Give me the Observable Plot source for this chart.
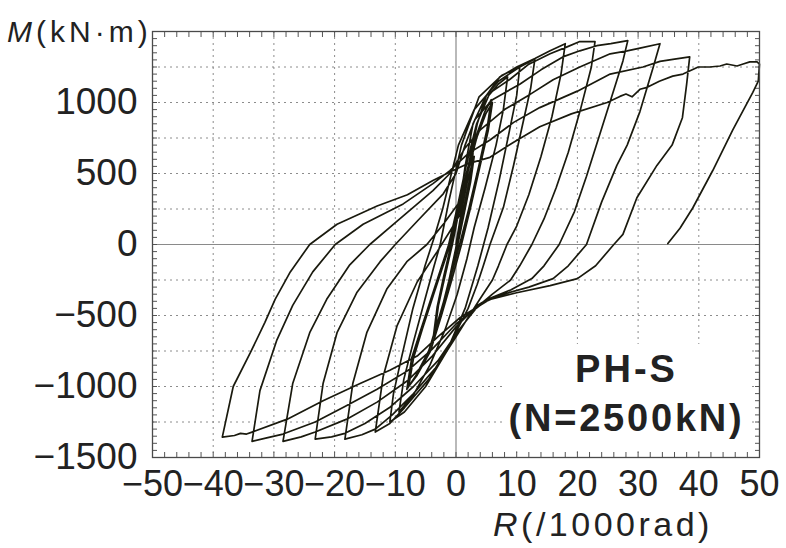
<!DOCTYPE html>
<html><head><meta charset="utf-8">
<script src="https://cdn.jsdelivr.net/npm/d3@7"></script>
<script src="https://cdn.jsdelivr.net/npm/@observablehq/plot@0.6"></script>
<style>
body{margin:0;background:#fff;}
#wrap{position:relative;width:786px;height:548px;font-family:"Liberation Sans",Arial,sans-serif;color:#222;overflow:hidden;}
.lbl{position:absolute;white-space:nowrap;line-height:1;}
</style></head><body><div id="wrap"></div>
<script>
// tick values
const xTicks = [-50,-40,-30,-20,-10,0,10,20,30,40,50];
const yTicks = [-1500,-1000,-500,0,500,1000];
const xGrid = [-40,-30,-20,-10,10,20,30,40];
const yGrid = [-1250,-1000,-750,-500,-250,250,500,750,1000,1250];

// hysteresis record, R (1/1000 rad), M (kN·m), in loading order
const band1 = [[0,0],[1,260],[2,470],[3,620],[2.4,440],[1.4,230],[0.3,0],[-1,-260],[-2.3,-470],[-3.5,-620],[-2.9,-430],[-1.8,-220],[-0.6,0],[0.6,260],[1.7,480],[2.8,640],[2.2,450],[1.1,220],[0.1,0],[-1.2,-260],[-2.5,-480],[-3.7,-640],[-3.1,-440],[-2,-220],[-0.8,0]];
const band2 = [[-0.8,0],[0.6,250],[1.9,500],[3.4,750],[4.9,920],[6,1000],[5.3,800],[4,560],[2.4,260],[0.9,0],[-0.7,-250],[-2.4,-500],[-4.2,-750],[-6.4,-920],[-7.8,-1000],[-7,-800],[-5.5,-590],[-3.6,-340],[-1.6,-80],[-1,0],[0.4,250],[1.7,500],[3.2,750],[4.7,930],[5.8,1020],[5.1,810],[3.8,560],[2.1,250],[0.6,0],[-1,-250],[-2.7,-500],[-4.5,-750],[-6.7,-930],[-8.1,-1020],[-7.3,-800],[-5.8,-600],[-3.8,-340],[-1.8,-80],[-1.2,0]];
const band3 = [[-1.2,0],[0.2,260],[1.7,560],[3.4,850],[5.4,1050],[7,1130],[8.5,1180],[7.8,950],[6.6,700],[4.8,400],[3,120],[1.8,-100],[0.2,-350],[-1.8,-600],[-4.3,-850],[-6.9,-1050],[-9.4,-1180],[-8.6,-950],[-7.1,-700],[-5.2,-400],[-3.6,-150],[-2.6,0]];
const cycle10 = [[-2.6,0],[-1.2,300],[0.9,700],[3.8,1040],[7.5,1190],[10.5,1250],[10,1050],[8.8,800],[7.1,450],[5.3,120],[3.6,-150],[1.5,-450],[-1.5,-750],[-5,-1000],[-8.5,-1180],[-10.9,-1250],[-10.3,-1050],[-9,-800],[-7.1,-450],[-5.1,-150],[-3.6,50],[-2.2,250]];
const cycle15 = [[-2.2,250],[0.4,700],[3,950],[7,1150],[10.5,1250],[13,1307],[12.3,1100],[11,850],[9.5,560],[7.8,260],[5.6,0],[4.5,-150],[3.5,-280],[2,-450],[-1,-700],[-4.5,-950],[-8.5,-1150],[-10.9,-1260],[-13.3,-1321],[-12,-929],[-9.7,-571],[-6.4,-264],[-3.1,-50],[-1,93],[0.7,214]];
const cycle20 = [[0.7,214],[2,550],[3.5,850],[5,1050],[7.2,1179],[10,1250],[13,1310],[15.5,1364],[18,1414],[17.3,1200],[15.8,900],[14,620],[12,350],[10,130],[8.4,0],[7,-150],[6,-250],[4,-380],[2.5,-480],[0,-650],[-3,-850],[-7,-1050],[-10.5,-1200],[-13.3,-1300],[-15.5,-1340],[-18.3,-1371],[-17,-979],[-14.7,-621],[-11.4,-314],[-8.1,-121],[-4.8,0],[-2.1,143],[0.7,307]];
const cycle25 = [[0.7,307],[1.5,550],[2.8,850],[5,1050],[8.9,1164],[12,1270],[15.5,1343],[18.2,1390],[20.4,1429],[22.9,1429],[22.3,1250],[20.5,950],[18.5,650],[16.5,400],[14.5,180],[12.5,0],[10.5,-150],[9,-250],[6,-350],[3.5,-440],[0.5,-600],[-3,-820],[-7,-1000],[-11,-1150],[-15,-1260],[-18.3,-1330],[-20.5,-1355],[-23.2,-1371],[-21.9,-979],[-19.6,-621],[-16.3,-336],[-12.5,-121],[-10,0],[-6.4,164],[-2.1,357]];
const cycle30 = [[-2.1,357],[0,500],[1.5,700],[3.1,879],[6,1020],[10.5,1129],[14,1230],[17.6,1321],[20.4,1364],[23.2,1400],[25.5,1415],[28.3,1436],[27.5,1293],[25.4,1007],[23.5,750],[21.5,480],[19.5,230],[17,0],[14.5,-150],[12.5,-240],[9,-320],[5,-390],[3.5,-430],[0,-580],[-4,-790],[-8,-960],[-13,-1110],[-18,-1230],[-23.2,-1320],[-25.5,-1355],[-28.5,-1386],[-26.9,-979],[-24.1,-621],[-21.3,-386],[-17.5,-143],[-14.2,0],[-9.7,164],[-3.8,379]];
const cycle35 = [[-3.8,379],[-1,500],[1.5,680],[4,807],[8,950],[12.2,1057],[16,1160],[20.4,1250],[25.4,1343],[28.2,1364],[30.5,1385],[33.6,1414],[32.5,1250],[30.3,936],[28.2,700],[26.5,557],[24,300],[21.5,0],[18.5,-150],[16,-240],[12,-300],[7,-360],[4.5,-410],[0,-560],[-4,-740],[-8,-890],[-13,-1020],[-18.3,-1140],[-23.2,-1250],[-28.5,-1335],[-31,-1360],[-33.6,-1386],[-32.3,-1029],[-29.5,-671],[-26.9,-429],[-23.6,-193],[-19.9,0],[-15.3,143],[-8.7,286],[-3.8,429]];
const cycle40 = [[-3.8,429],[-1,520],[2,640],[5.6,736],[9.5,860],[13.8,964],[20,1080],[25.4,1200],[30.8,1250],[33.6,1290],[36,1305],[38.5,1321],[38,1129],[37.3,893],[35.6,700],[33.1,557],[29.8,329],[27.5,71],[26,0],[23,-150],[20,-240],[15.5,-290],[10,-340],[5.6,-386],[0.7,-514],[-3,-650],[-6.4,-786],[-10.9,-886],[-15.8,-979],[-21.9,-1100],[-27.8,-1230],[-33.6,-1321],[-34.5,-1335],[-35.5,-1330],[-36.5,-1345],[-38.5,-1357],[-36.7,-1000],[-33.9,-764],[-31.5,-550],[-29.8,-386],[-27.3,-193],[-24.1,0],[-19.6,143],[-13,271],[-8,350],[-3.8,450]];
const final50 = [[-3.8,450],[-1,510],[2,570],[5.6,614],[9.5,720],[13.8,829],[19,920],[24.9,1000],[27,1043],[28,1060],[29,1040],[30.3,1093],[31.5,1107],[33.5,1150],[35.7,1186],[37.4,1200],[39.9,1250],[41.8,1250],[43.5,1257],[44.6,1271],[46.3,1257],[47.3,1271],[48.4,1286],[49.6,1286],[50,1270],[49.8,1150],[48.9,1071],[45.6,807],[42.3,521],[39,257],[36.9,114],[34.9,7]];

const path = [band1, band2, band3, cycle10, cycle15, cycle20, cycle25, cycle30, cycle35, cycle40, final50]
  .flat().map(([R, M]) => ({R, M}));

const minorX = d3.range(-50, 51, 2);
const minorY = d3.range(-1500, 1501, 50);
const fmt = d3.format("d");

const chart = Plot.plot({
  width: 786, height: 548,
  marginLeft: 152, marginRight: 27, marginTop: 31, marginBottom: 91,
  style: {fontFamily: "'Liberation Sans', Arial, sans-serif", color: "#222", background: "white", overflow: "visible"},
  x: {domain: [-50, 50]},
  y: {domain: [-1500, 1500]},
  marks: [
    Plot.ruleX(xGrid, {stroke: "#8c8c8c", strokeDasharray: "2,4", strokeWidth: 1}),
    Plot.ruleY(yGrid, {stroke: "#8c8c8c", strokeDasharray: "2,4", strokeWidth: 1}),
    Plot.ruleX([0], {stroke: "#8a8a8a", strokeWidth: 1.2}),
    Plot.ruleY([0], {stroke: "#8a8a8a", strokeWidth: 1.2}),
    Plot.axisX({ticks: minorX, anchor: "bottom", tickSize: -5, fill: "none", label: null, stroke: "#555"}),
    Plot.axisX({ticks: minorX, anchor: "top", tickSize: -5, fill: "none", label: null, stroke: "#555"}),
    Plot.axisY({ticks: minorY, anchor: "left", tickSize: -5, fill: "none", label: null, stroke: "#555"}),
    Plot.axisY({ticks: minorY, anchor: "right", tickSize: -5, fill: "none", label: null, stroke: "#555"}),
    Plot.axisX({ticks: xTicks, tickFormat: fmt, anchor: "bottom", tickSize: 0, tickPadding: 13, fontSize: 36, label: null, fill: "#222"}),
    Plot.axisY({ticks: yTicks, tickFormat: fmt, anchor: "left", tickSize: 0, tickPadding: 15, fontSize: 37, label: null, fill: "#222"}),
    Plot.line(path, {x: "R", y: "M", stroke: "#1a1a0e", strokeWidth: 1.7, strokeLinejoin: "round"}),
    Plot.frame({stroke: "#4a4a4a", strokeWidth: 1.3})
  ]
});

const wrap = document.getElementById("wrap");
wrap.appendChild(chart);

function addLabel(html, css) {
  const d = document.createElement("div");
  d.className = "lbl";
  d.innerHTML = html;
  Object.assign(d.style, css);
  wrap.appendChild(d);
  return d;
}
addLabel("<i>M</i>(kN·m)", {left: "7px", top: "17px", fontSize: "30px", letterSpacing: "4px"});
addLabel("<i>R</i>(/1000rad)", {left: "493px", top: "507px", fontSize: "34px", letterSpacing: "3.5px"});
addLabel("", {left: "505px", top: "344px", width: "243px", height: "106px", background: "#fff"});
addLabel("PH-S", {left: "505px", top: "350px", width: "243px", textAlign: "center", fontSize: "38px", fontWeight: "bold", letterSpacing: "3px"});
addLabel("(N=2500kN)", {left: "505px", top: "399px", width: "243px", textAlign: "center", fontSize: "38px", fontWeight: "bold", letterSpacing: "2.8px"});
</script>
</body></html>
